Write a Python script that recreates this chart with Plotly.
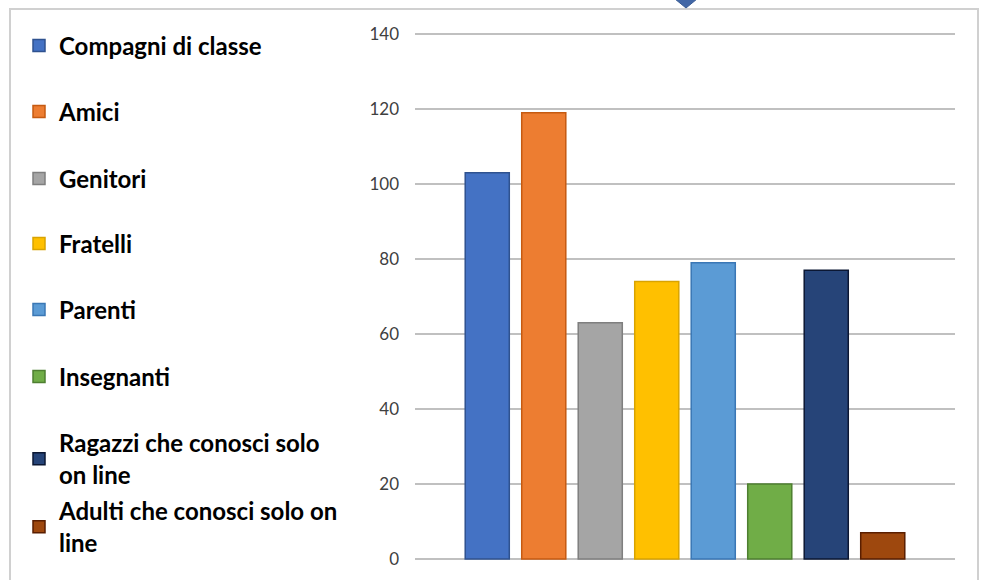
import plotly.graph_objects as go

categories = ["Compagni di classe", "Amici", "Genitori", "Fratelli", "Parenti",
              "Insegnanti", "Ragazzi che conosci solo on line", "Adulti che conosci solo on line"]
legend_labels = ["Compagni di classe", "Amici", "Genitori", "Fratelli", "Parenti",
                 "Insegnanti", "Ragazzi che conosci solo<br>on line", "Adulti che conosci solo on<br>line"]
values = [103, 119, 63, 74, 79, 20, 77, 7]
fill_colors = ["#4472C4", "#ED7D31", "#A5A5A5", "#FFC000", "#5B9BD5", "#70AD47", "#264478", "#9E480E"]
line_colors = ["#2F528F", "#C55A11", "#7F7F7F", "#D9A300", "#3A77B5", "#4E7F30", "#0B1733", "#5A1E00"]
y_ticks = [0, 20, 40, 60, 80, 100, 120, 140]

W, H = 982, 580
L, R, T, B = 415, 27, 32, 19
PW, PH = W - L - R, H - T - B

def px(x):
    return (x - L) / PW

def py(y):
    return (H - B - y) / PH

# legend item centers (pixels)
legend_y = [46, 112, 179, 244, 310, 377, 459, 527]

fig = go.Figure()
legend_names = ["legend"] + [f"legend{i}" for i in range(2, 9)]
for i, cat in enumerate(categories):
    fig.add_trace(go.Bar(
        x=["Serie"], y=[values[i]], name=legend_labels[i],
        marker=dict(color=fill_colors[i], line=dict(color=line_colors[i], width=1.5)),
        legend=legend_names[i], hovertext=cat,
    ))

layout_legends = {}
for i, ln in enumerate(legend_names):
    layout_legends[ln] = dict(
        xref="container", yref="container", x=19 / W, y=1 - legend_y[i] / H,
        xanchor="left", yanchor="middle", bgcolor="rgba(0,0,0,0)",
        font=dict(family="Lato", size=24, color="#000000", weight=700),
        itemclick=False, itemdoubleclick=False,
    )

fig.update_layout(
    width=W, height=H, margin=dict(l=L, r=R, t=T, b=B),
    paper_bgcolor="white", plot_bgcolor="white",
    barmode="group", bargap=0.163, bargroupgap=0.22,
    showlegend=True,
    xaxis=dict(showticklabels=False, showgrid=False, zeroline=False, showline=False),
    yaxis=dict(range=[-0.5, 140.5], tickvals=y_ticks, showgrid=True, gridcolor="#C0C0C0",
               gridwidth=2, zeroline=False, showline=False,
               tickfont=dict(family="Lato", size=17, color="#404040"),
               ticklabelstandoff=15),
    shapes=[
        dict(type="rect", xref="paper", yref="paper", x0=px(10), x1=px(978), y0=py(9), y1=py(590),
             line=dict(color="#D0D0D0", width=2), fillcolor="rgba(0,0,0,0)", layer="below"),
        dict(type="path", xref="paper", yref="paper",
             path=f"M{px(675)},{py(-3)} L{px(697)},{py(-3)} L{px(697)},{py(-1)} L{px(686)},{py(8)} L{px(675)},{py(-1)} Z",
             fillcolor="#4267A6", line=dict(color="#3A5C94", width=1)),
    ],
    **layout_legends,
)

fig.write_html("out.html")
